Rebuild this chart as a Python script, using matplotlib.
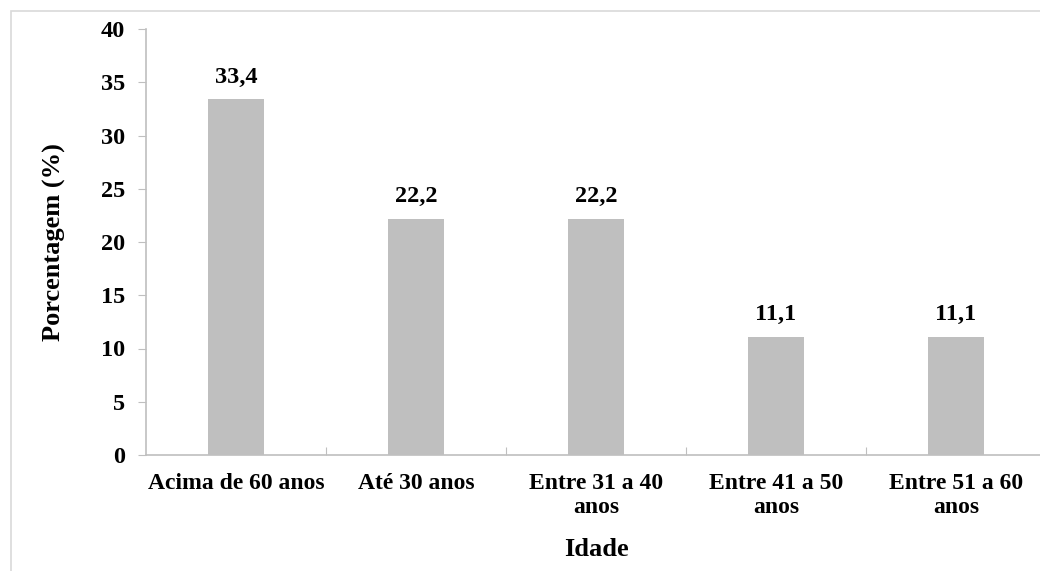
import matplotlib.pyplot as plt
from matplotlib.patches import Rectangle

# faixas etarias e percentuais
categorias = ["Acima de 60 anos", "Até 30 anos", "Entre 31 a 40\nanos",
              "Entre 41 a 50\nanos", "Entre 51 a 60\nanos"]
valores = [33.4, 22.2, 22.2, 11.1, 11.1]
rotulos = ["33,4", "22,2", "22,2", "11,1", "11,1"]
yticks = [0, 5, 10, 15, 20, 25, 30, 35, 40]

plt.rcParams['font.family'] = ['Liberation Serif', 'DejaVu Serif']
plt.rcParams['font.weight'] = 'bold'

W, H = 1040, 571
fig = plt.figure(figsize=(W / 100, H / 100), dpi=100)
ax = fig.add_axes([146 / W, 1 - 455 / H, 900 / W, (455 - 29) / H])

# moldura externa (so esquerda e topo aparecem)
fig.patches.append(Rectangle((11 / W, -0.1), 2, 1.1 - 11 / H, transform=fig.transFigure,
                             fill=False, edgecolor="#d9d9d9", linewidth=1.2))

x = list(range(len(categorias)))
ax.bar(x, valores, width=0.31, color="#bfbfbf")
for xi, v, r in zip(x, valores, rotulos):
    ax.text(xi, v + 1.1, r, ha="center", va="bottom", fontsize=17.5, fontweight="bold")

ax.set_xlim(-0.5, len(categorias) - 0.5)
ax.set_ylim(0, 40)
ax.set_yticks(yticks)
ax.set_yticklabels([str(t) for t in yticks], fontsize=17.5, fontweight="bold")
ax.tick_params(axis="y", direction="out", length=6, color="#bfbfbf", pad=9)

# ticks do eixo x nas fronteiras das categorias
ax.set_xticks([i + 0.5 for i in x[:-1]], minor=False)
ax.set_xticklabels([])
ax.tick_params(axis="x", direction="in", length=6, color="#bfbfbf")
ax.set_xticks(x, minor=True)
ax.set_xticklabels(categorias, minor=True, fontsize=17, fontweight="bold",
                   linespacing=1.2)
ax.tick_params(axis="x", which="minor", length=0, pad=13)

for s in ["top", "right"]:
    ax.spines[s].set_visible(False)
for s in ["left", "bottom"]:
    ax.spines[s].set_color("#bfbfbf")
    ax.spines[s].set_linewidth(1.2)

ax.set_ylabel("Porcentagem (%)", fontsize=19, fontweight="bold")
ax.set_xlabel("Idade", fontsize=19, fontweight="bold")
ax.xaxis.set_label_coords((596 - 146) / 900, -(538 - 455) / (455 - 29))
ax.yaxis.set_label_coords(-(146 - 66) / 900, 0.5)

fig.savefig("out.png", dpi=100)
